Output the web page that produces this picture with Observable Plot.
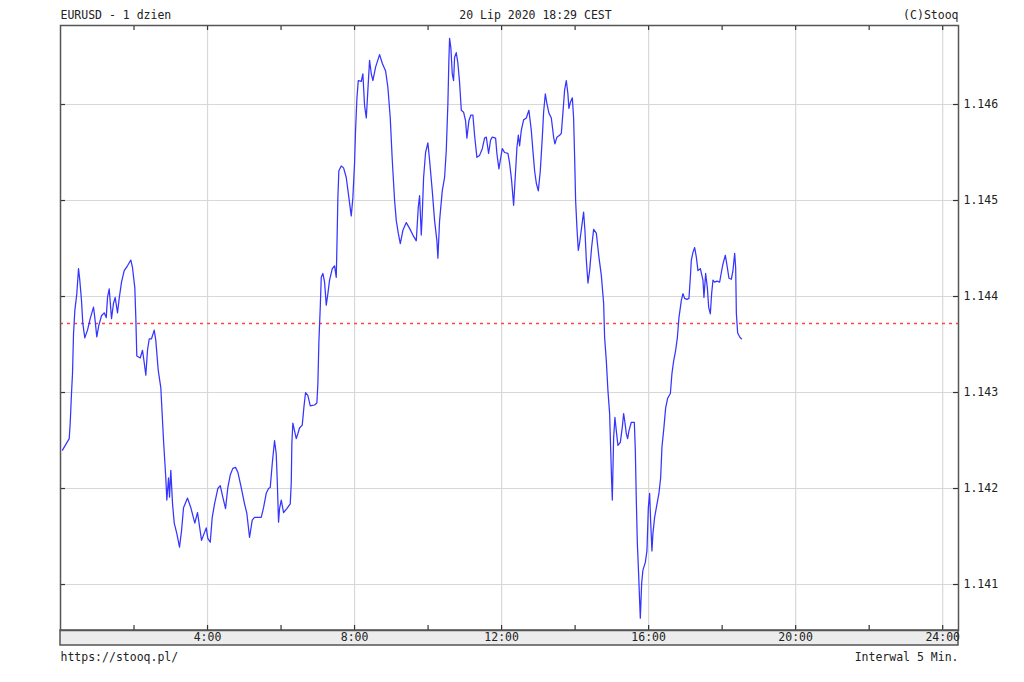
<!DOCTYPE html>
<html><head><meta charset="utf-8">
<script src="https://cdn.jsdelivr.net/npm/d3@7"></script>
<script src="https://cdn.jsdelivr.net/npm/@observablehq/plot@0.6"></script>
<style>body{margin:0;background:#fff}</style>
</head><body><div id="chart"></div>
<script>
// Time of day (hours) and EURUSD price
const times = [
0.054,0.237,0.264,0.299,0.327,0.354,0.389,0.444,0.490,0.525,
0.571,0.607,0.661,0.735,0.808,0.898,0.933,0.988,1.042,1.116,
1.189,1.244,1.279,1.325,1.388,1.442,1.488,1.551,1.597,1.660,
1.733,1.823,1.913,1.959,2.022,2.049,2.076,2.169,2.231,2.278,
2.321,2.367,2.414,2.476,2.550,2.593,2.659,2.729,2.803,2.865,
2.893,2.939,2.966,3.001,3.048,3.094,3.165,3.238,3.293,3.347,
3.456,3.546,3.654,3.728,3.837,
3.965,4.008,4.074,4.128,4.191,4.280,4.346,4.416,4.490,4.552,
4.618,4.688,4.762,4.825,4.917,5.007,5.070,5.143,5.216,5.279,
5.461,5.524,5.597,5.660,5.706,5.761,5.823,5.869,5.897,5.932,
5.959,6.006,6.068,6.158,6.250,6.278,6.294,6.321,6.367,6.414,
6.457,6.503,6.577,6.620,6.667,6.729,6.795,6.912,6.974,7.002,
7.029,7.067,7.094,7.138,7.184,7.230,7.274,7.320,7.394,7.456,
7.502,7.518,7.546,7.573,7.638,7.701,7.774,7.845,7.910,7.954,
8.000,
8.027,8.063,8.101,8.183,8.226,8.272,8.319,8.362,8.408,8.455,
8.498,8.572,8.681,8.754,8.844,8.906,8.971,9.026,9.089,9.135,
9.189,9.244,9.315,9.407,9.497,9.587,9.679,9.733,9.769,9.815,
9.842,9.878,9.932,9.995,10.041,10.114,10.177,10.240,10.267,10.313,
10.386,10.449,10.495,10.539,10.566,10.585,10.620,10.658,10.694,10.721,
10.767,10.811,10.857,10.904,10.966,11.020,11.056,11.110,11.165,11.219,
11.265,11.328,11.401,11.475,11.537,11.584,11.646,11.701,11.747,11.837,
11.872,11.927,11.965,12.019,12.082,12.172,12.218,12.272,12.327,12.381,
12.417,12.455,12.490,12.536,12.599,12.672,12.743,12.808,12.852,12.898,
12.945,12.999,13.053,13.108,13.143,13.189,13.233,13.287,13.353,13.415,
13.451,13.505,13.578,13.625,13.668,13.714,13.760,13.804,13.831,13.870,
13.924,13.959,13.987,14.014,14.049,14.087,14.123,14.177,14.231,14.267,
14.305,14.349,14.395,14.449,14.504,14.577,14.648,14.713,14.776,
14.803,14.849,14.893,14.939,14.966,14.993,15.012,15.048,15.083,15.121,
15.165,15.230,15.284,15.320,15.355,15.393,15.429,15.464,15.529,15.611,
15.638,15.665,15.693,15.728,15.755,15.774,15.810,15.845,15.910,15.954,
15.992,16.027,16.054,16.090,16.117,16.163,16.210,16.280,16.327,16.362,
16.417,16.463,16.517,16.591,16.635,16.681,16.735,16.781,16.825,16.890,
16.934,16.980,17.043,17.097,17.135,17.162,17.206,17.252,17.298,17.342,
17.407,17.478,17.505,17.551,17.598,17.633,17.679,17.714,17.750,17.796,
17.859,17.932,17.978,18.022,18.087,18.142,18.185,18.251,18.294,18.341,
18.368,18.387,18.422,18.476,18.523
];
const prices = [
1.14240,1.14252,1.14268,1.14299,1.14320,1.14361,1.14385,1.14403,1.14429,1.14417,
1.14396,1.14372,1.14357,1.14365,1.14377,1.14389,1.14378,1.14358,1.14370,1.14380,
1.14383,1.14378,1.14399,1.14408,1.14377,1.14393,1.14399,1.14383,1.14398,1.14415,
1.14427,1.14432,1.14438,1.14430,1.14409,1.14378,1.14338,1.14336,1.14344,1.14331,
1.14318,1.14344,1.14356,1.14356,1.14365,1.14354,1.14323,1.14305,1.14250,1.14211,
1.14188,1.14211,1.14191,1.14219,1.14184,1.14164,1.14153,1.14139,1.14156,1.14180,
1.14190,1.14180,1.14164,1.14175,1.14146,
1.14159,1.14148,1.14144,1.14170,1.14184,1.14200,1.14203,1.14191,1.14179,1.14201,
1.14214,1.14221,1.14222,1.14217,1.14201,1.14184,1.14174,1.14149,1.14167,1.14170,
1.14170,1.14180,1.14195,1.14200,1.14201,1.14226,1.14250,1.14236,1.14208,1.14165,
1.14179,1.14188,1.14175,1.14179,1.14184,1.14206,1.14247,1.14268,1.14260,1.14252,
1.14257,1.14263,1.14266,1.14284,1.14300,1.14297,1.14286,1.14287,1.14289,1.14309,
1.14352,1.14389,1.14420,1.14424,1.14415,1.14391,1.14403,1.14417,1.14429,1.14432,
1.14420,1.14448,1.14503,1.14531,1.14536,1.14534,1.14524,1.14503,1.14484,1.14503,
1.14539,
1.14573,1.14606,1.14625,1.14624,1.14632,1.14599,1.14586,1.14615,1.14646,1.14632,
1.14625,1.14639,1.14652,1.14643,1.14635,1.14618,1.14586,1.14542,1.14500,1.14479,
1.14466,1.14455,1.14469,1.14477,1.14471,1.14464,1.14458,1.14493,1.14505,1.14464,
1.14486,1.14524,1.14550,1.14560,1.14542,1.14510,1.14479,1.14458,1.14440,1.14479,
1.14510,1.14524,1.14552,1.14601,1.14646,1.14669,1.14659,1.14632,1.14625,1.14649,
1.14654,1.14643,1.14623,1.14594,1.14592,1.14583,1.14565,1.14583,1.14589,1.14589,
1.14568,1.14545,1.14547,1.14554,1.14565,1.14566,1.14549,1.14563,1.14566,1.14565,
1.14549,1.14533,1.14542,1.14554,1.14550,1.14549,1.14539,1.14521,1.14495,1.14531,
1.14555,1.14568,1.14557,1.14573,1.14584,1.14586,1.14594,1.14573,1.14552,1.14531,
1.14518,1.14510,1.14531,1.14566,1.14592,1.14611,1.14601,1.14591,1.14586,1.14566,
1.14559,1.14566,1.14568,1.14570,1.14591,1.14615,1.14625,1.14611,1.14596,1.14602,
1.14607,1.14586,1.14545,1.14500,1.14472,1.14448,1.14456,1.14472,1.14488,1.14469,
1.14438,1.14414,1.14427,1.14451,1.14470,1.14466,1.14441,1.14422,1.14393,
1.14357,1.14333,1.14302,1.14278,1.14243,1.14208,1.14188,1.14253,1.14274,1.14260,
1.14245,1.14248,1.14264,1.14278,1.14269,1.14257,1.14252,1.14260,1.14269,1.14269,
1.14240,1.14188,1.14143,1.14111,1.14083,1.14065,1.14101,1.14115,1.14123,1.14135,
1.14180,1.14195,1.14167,1.14135,1.14153,1.14170,1.14180,1.14195,1.14211,1.14243,
1.14264,1.14284,1.14294,1.14299,1.14320,1.14333,1.14344,1.14357,1.14378,1.14396,
1.14403,1.14398,1.14397,1.14398,1.14420,1.14438,1.14446,1.14451,1.14441,1.14427,
1.14429,1.14417,1.14399,1.14424,1.14409,1.14389,1.14382,1.14403,1.14417,1.14415,
1.14416,1.14415,1.14425,1.14434,1.14443,1.14430,1.14419,1.14418,1.14427,1.14445,
1.14430,1.14382,1.14362,1.14358,1.14356
];
const prevClose = [1.14372];
const yTicks = [1.141, 1.142, 1.143, 1.144, 1.145, 1.146];
const xLabelTicks = [4, 8, 12, 16, 20, 24];
const xMinorTicks = [2, 4, 6, 8, 10, 12, 14, 16, 18, 20, 22, 24];
const yDomain = [1.140521, 1.146823];
const xDomain = [0, 24.43];
const titleLeft = ["EURUSD - 1 dzien"];
const titleCenter = ["20 Lip 2020 18:29 CEST"];
const titleRight = ["(C)Stooq"];
const footLeft = ["https://stooq.pl/"];
const footRight = ["Interwal 5 Min."];

const data = times.map((t, i) => ({t, p: prices[i]}));

const W = 1024, H = 682, mL = 60, mR = 66, mT = 25, mB = 52;
const pw = W - mL - mR, ph = H - mT - mB;
const font = "'DejaVu Sans Mono', monospace";
const txt = {fill: "#222", fontSize: 11.5, lineAnchor: "middle"};

const plot = Plot.plot({
  width: W, height: H,
  marginLeft: mL, marginRight: mR, marginTop: mT, marginBottom: mB,
  style: {fontFamily: font, fontSize: "11.5px", color: "#222", background: "#fff", overflow: "visible"},
  x: {domain: xDomain, axis: null, label: null},
  y: {domain: yDomain, axis: null, label: null},
  marks: [
    Plot.gridY(yTicks, {stroke: "#d8d8d8", strokeOpacity: 1, strokeWidth: 1.2}),
    Plot.gridX(xLabelTicks, {stroke: "#d8d8d8", strokeOpacity: 1, strokeWidth: 1.2}),
    Plot.ruleY(prevClose, {stroke: "#ff4444", strokeDasharray: "3,4", strokeWidth: 1.5}),
    Plot.line(data, {x: "t", y: "p", stroke: "#3535ff", strokeWidth: 1.25}),
    Plot.tickY(yTicks, {insetLeft: pw - 5, stroke: "#333", strokeWidth: 1.2}),
    Plot.tickY(yTicks, {insetRight: pw - 5, stroke: "#333", strokeWidth: 1.2}),
    Plot.tickX(xMinorTicks, {insetBottom: ph - 5, stroke: "#333", strokeWidth: 1.2}),
    Plot.tickX(xMinorTicks, {insetTop: ph - 5, stroke: "#333", strokeWidth: 1.2}),
    Plot.axisY(yTicks, {anchor: "right", label: null, tickSize: 0, tickPadding: 5, tickFormat: d3.format(".3f"), fill: "#222"}),
    Plot.axisX(xLabelTicks, {anchor: "bottom", label: null, tickSize: 0, tickPadding: 2, tickFormat: d => d + ":00", fill: "#222"}),
    Plot.frame({stroke: "#555", strokeWidth: 1.5}),
    Plot.text(titleLeft, {...txt, text: d => d, frameAnchor: "top-left", textAnchor: "start", dy: -10}),
    Plot.text(titleCenter, {...txt, text: d => d, frameAnchor: "top", textAnchor: "middle", dy: -10, dx: 26}),
    Plot.text(titleRight, {...txt, text: d => d, frameAnchor: "top-right", textAnchor: "end", dy: -10}),
    Plot.text(footLeft, {...txt, text: d => d, frameAnchor: "bottom-left", textAnchor: "start", dy: 27}),
    Plot.text(footRight, {...txt, text: d => d, frameAnchor: "bottom-right", textAnchor: "end", dy: 27})
  ]
});

// grey band holding the time labels, below the plotting frame
const svg = d3.select(plot);
svg.insert("rect", ":first-child")
  .attr("x", mL).attr("y", H - mB).attr("width", pw).attr("height", 15)
  .attr("fill", "#ececec").attr("stroke", "#555").attr("stroke-width", 1.5);
svg.insert("rect", ":first-child")
  .attr("x", 0).attr("y", 0).attr("width", W).attr("height", H).attr("fill", "#fff");

document.getElementById("chart").appendChild(plot);
</script>
</body></html>
